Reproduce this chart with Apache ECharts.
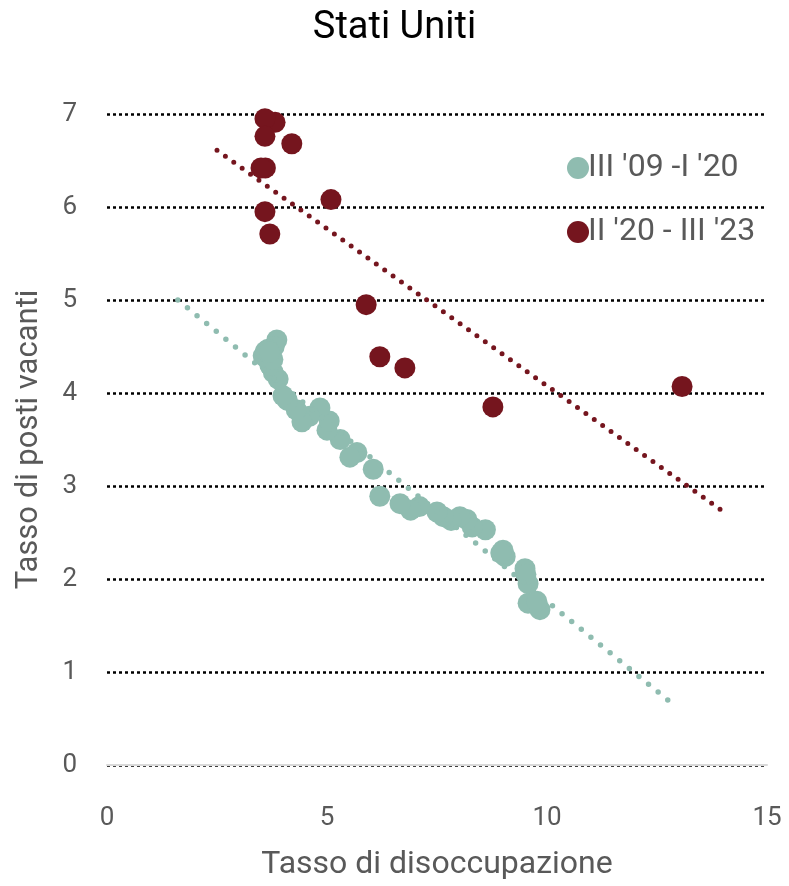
<!DOCTYPE html>
<html><head><meta charset="utf-8">
<script src="https://cdn.jsdelivr.net/npm/echarts@6/dist/echarts.min.js"></script>
<style>html,body{margin:0;padding:0;background:#fff}#c{width:789px;height:886px}</style>
</head><body><div id="c"></div>
<script>
const title = "Stati Uniti";
const xName = "Tasso di disoccupazione";
const yName = "Tasso di posti vacanti";
const nameGreen = "III '09 -I '20";
const nameRed = "II '20 - III '23";
// [unemployment, vacancy] III'09 - I'20
const greenPts = [
  [9.57,1.74],[9.84,1.67],[9.77,1.76],[9.57,1.95],[9.50,2.11],[9.52,2.05],
  [9.00,2.31],[9.05,2.24],[8.95,2.28],[8.60,2.53],[8.30,2.56],[8.18,2.64],
  [8.02,2.67],[7.82,2.63],[7.64,2.67],[7.50,2.72],[7.10,2.78],[6.90,2.74],
  [6.66,2.81],[6.20,2.89],[6.05,3.18],[5.68,3.36],[5.52,3.31],[5.30,3.50],
  [5.00,3.60],[5.05,3.70],[4.84,3.84],[4.60,3.75],[4.43,3.69],[4.30,3.82],
  [4.10,3.92],[4.00,3.97],[3.89,4.15],[3.78,4.22],[3.70,4.30],[3.62,4.38],
  [3.86,4.57],[3.80,4.50],[3.66,4.47],[3.55,4.40],[3.60,4.45],[3.77,4.36],[3.70,4.44]
];
// II'20 - III'23
const redPts = [
  [13.07,4.07],[8.77,3.85],[6.77,4.27],[6.20,4.39],[5.89,4.95],[5.09,6.08],
  [4.20,6.68],[3.82,6.91],[3.59,6.95],[3.59,6.76],[3.60,6.42],[3.50,6.42],
  [3.59,5.95],[3.70,5.71]
];
const greenTrend = [[1.61,5.0],[12.77,0.69]];
const redTrend = [[2.50,6.61],[14.02,2.72]];
const xTicks = [0,15,5];   // min, max, interval
const yTicks = [0,7,1];

const GREEN = '#8FBCB0', RED = '#75151E', GREY = '#595959';
const FONT = 'Roboto';
const chart = echarts.init(document.getElementById('c'));
chart.setOption({
  animation:false,
  textStyle:{fontFamily:FONT},
  title:{text:title,left:'center',top:4,textStyle:{fontFamily:FONT,fontSize:38,fontWeight:'normal',color:'#000'}},
  grid:{left:107,right:22,top:114,bottom:119},
  legend:{orient:'vertical',left:562,top:147,itemGap:32,itemWidth:22,itemHeight:22,
    icon:'circle',textStyle:{fontFamily:FONT,fontSize:32,color:GREY,padding:[0,0,0,-6]},
    data:[nameGreen,nameRed]},
  xAxis:{type:'value',min:xTicks[0],max:xTicks[1],interval:xTicks[2],
    name:xName,nameLocation:'middle',nameGap:84,
    nameTextStyle:{fontFamily:FONT,fontSize:32,color:GREY},
    axisLine:{show:true,lineStyle:{color:'#d9d9d9',width:2}},
    axisTick:{show:false},splitLine:{show:false},
    axisLabel:{fontFamily:FONT,fontSize:26,color:GREY,margin:40}},
  yAxis:{type:'value',min:yTicks[0],max:yTicks[1],interval:yTicks[2],
    name:yName,nameLocation:'middle',nameGap:62,
    nameTextStyle:{fontFamily:FONT,fontSize:31,color:GREY},
    axisLine:{show:false},axisTick:{show:false},
    axisLabel:{fontFamily:FONT,fontSize:26,color:GREY,margin:30,padding:[6,0,0,0]},
    splitLine:{show:true,lineStyle:{color:'#000',width:2.5,type:[3,3]}}},
  series:[
    {name:nameGreen,type:'scatter',data:greenPts,symbolSize:21,clip:false,
      itemStyle:{color:GREEN,opacity:1}},
    {name:nameRed,type:'scatter',data:redPts,symbolSize:21,clip:false,
      itemStyle:{color:RED,opacity:1}},
    {type:'line',data:greenTrend,symbol:'none',silent:true,clip:false,
      lineStyle:{color:GREEN,width:5.5,type:[0,12.4],cap:'round'}},
    {type:'line',data:redTrend,symbol:'none',silent:true,clip:false,
      lineStyle:{color:RED,width:5,type:[0,10.3],cap:'round'}}
  ]
});
</script></body></html>
